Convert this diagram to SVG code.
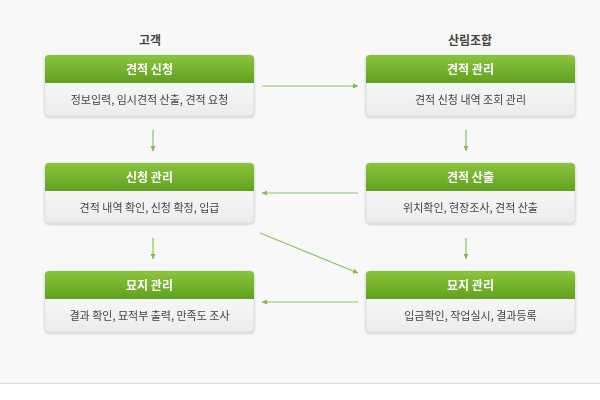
<svg xmlns="http://www.w3.org/2000/svg" width="600" height="400" viewBox="0 0 600 400">
<defs>
<linearGradient id="hg" x1="0" y1="0" x2="0" y2="1"><stop offset="0" stop-color="#8cc43c"/><stop offset="1" stop-color="#5fa121"/></linearGradient>
<linearGradient id="bg" x1="0" y1="0" x2="0" y2="1"><stop offset="0" stop-color="#ffffff"/><stop offset="1" stop-color="#ececec"/></linearGradient>
<marker id="ah" markerWidth="6" markerHeight="6" refX="5" refY="3" orient="auto" markerUnits="userSpaceOnUse"><path d="M0,0.5 L5,3 L0,5.5 z" fill="#7fbb45"/></marker>
<filter id="sh" x="-5%" y="-10%" width="110%" height="130%"><feDropShadow dx="0" dy="1" stdDeviation="1" flood-color="#000" flood-opacity="0.2"/></filter>
</defs>
<style>
.t{font-family:"Noto Sans CJK KR",sans-serif;text-anchor:middle}
.col{font-size:12px;font-weight:bold;fill:#444}
.h{font-size:12px;font-weight:bold;fill:#fff}
.b{font-size:11px;fill:#444}
.c{stroke:#8cc45a;stroke-width:1.2;fill:none;marker-end:url(#ah)}
</style>
<rect width="600" height="384" fill="#f8f8f8"/>
<line x1="0" y1="383.5" x2="600" y2="383.5" stroke="#ddd"/>
<text class="t col" x="150" y="45">고객</text>
<text class="t col" x="470" y="45">산림조합</text>
<g id="n1" filter="url(#sh)"><rect x="45" y="55" width="209" height="61" rx="4" fill="url(#bg)" stroke="#ddd"/><path d="M45,83 V59 a4,4 0 0 1 4,-4 H250 a4,4 0 0 1 4,4 V83 z" fill="url(#hg)"/><text class="t h" x="149.5" y="74">견적 신청</text><text class="t b" x="149.5" y="104">정보입력, 임시견적 산출, 견적 요청</text></g>
<g id="n2" filter="url(#sh)"><rect x="366" y="55" width="209" height="61" rx="4" fill="url(#bg)" stroke="#ddd"/><path d="M366,83 V59 a4,4 0 0 1 4,-4 H571 a4,4 0 0 1 4,4 V83 z" fill="url(#hg)"/><text class="t h" x="470.5" y="74">견적 관리</text><text class="t b" x="470.5" y="104">견적 신청 내역 조회 관리</text></g>
<g id="n3" filter="url(#sh)"><rect x="45" y="163" width="209" height="60" rx="4" fill="url(#bg)" stroke="#ddd"/><path d="M45,191 V167 a4,4 0 0 1 4,-4 H250 a4,4 0 0 1 4,4 V191 z" fill="url(#hg)"/><text class="t h" x="149.5" y="182">신청 관리</text><text class="t b" x="149.5" y="212">견적 내역 확인, 신청 확정, 입급</text></g>
<g id="n4" filter="url(#sh)"><rect x="366" y="163" width="209" height="60" rx="4" fill="url(#bg)" stroke="#ddd"/><path d="M366,191 V167 a4,4 0 0 1 4,-4 H571 a4,4 0 0 1 4,4 V191 z" fill="url(#hg)"/><text class="t h" x="470.5" y="182">견적 산출</text><text class="t b" x="470.5" y="212">위치확인, 현장조사, 견적 산출</text></g>
<g id="n5" filter="url(#sh)"><rect x="45" y="271" width="209" height="61" rx="4" fill="url(#bg)" stroke="#ddd"/><path d="M45,299 V275 a4,4 0 0 1 4,-4 H250 a4,4 0 0 1 4,4 V299 z" fill="url(#hg)"/><text class="t h" x="149.5" y="290">묘지 관리</text><text class="t b" x="149.5" y="320">결과 확인, 묘적부 출력, 만족도 조사</text></g>
<g id="n6" filter="url(#sh)"><rect x="366" y="271" width="209" height="61" rx="4" fill="url(#bg)" stroke="#ddd"/><path d="M366,299 V275 a4,4 0 0 1 4,-4 H571 a4,4 0 0 1 4,4 V299 z" fill="url(#hg)"/><text class="t h" x="470.5" y="290">묘지 관리</text><text class="t b" x="470.5" y="320">입금확인, 작업실시, 결과등록</text></g>
<g id="connectors">
<line class="c" x1="262" y1="86" x2="358" y2="86"/>
<line class="c" x1="153" y1="130" x2="153" y2="151"/>
<line class="c" x1="466" y1="130" x2="466" y2="151"/>
<line class="c" x1="358" y1="193" x2="262" y2="193"/>
<line class="c" x1="153" y1="238" x2="153" y2="259"/>
<line class="c" x1="466" y1="238" x2="466" y2="259"/>
<line class="c" x1="260" y1="233" x2="358" y2="273"/>
<line class="c" x1="358" y1="302" x2="262" y2="302"/>
</g>
</svg>
